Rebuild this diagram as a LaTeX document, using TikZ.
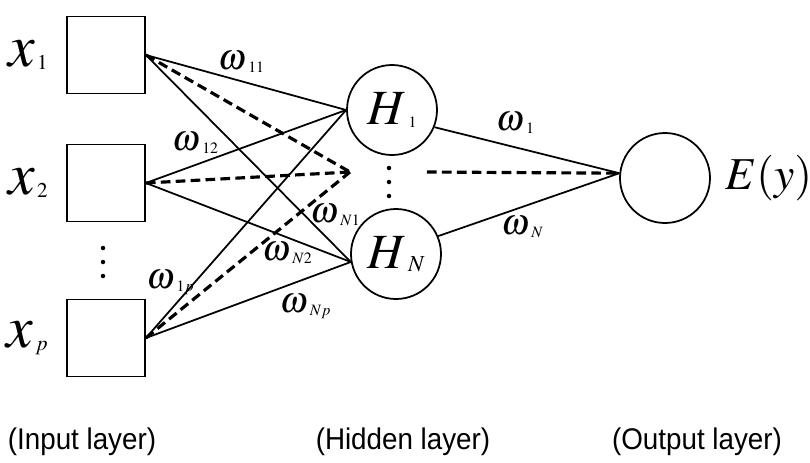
\documentclass[tikz,border=0pt]{standalone}
\usepackage{mathptmx}
\usepackage{fontspec}
\newfontfamily\layerfont[FakeStretch=0.93]{Liberation Sans}
\usetikzlibrary{positioning}
\newcommand{\sym}[4]{{\fontsize{#3}{#3}\selectfont$#1$}\kern0.4mm\raisebox{-0.6mm}{\fontsize{#4}{#4}\selectfont$#2$}}
\tikzset{
  inbox/.style={draw, line width=1pt, minimum width=15.6mm, minimum height=15.4mm, inner sep=0pt},
  neuron/.style={draw, circle, line width=1pt, minimum size=18mm, inner sep=0pt},
  link/.style={line width=1pt},
  dlink/.style={line width=1.8pt, dash pattern=on 5.5pt off 3pt},
  wlabel/.style={inner sep=0pt},
  layer/.style={inner sep=0pt, font=\layerfont\fontsize{17}{17}\selectfont}
}

\begin{document}
\begin{tikzpicture}[x=0.2mm, y=-0.2mm]
  \useasboundingbox (0,0) rectangle (810,462);

  % input layer
  \node [inbox] (in1) at (106,55) {};
  \node [inbox] (in2) at (106,183) {};
  \node [inbox] (inp) at (106,338) {};
  \node [wlabel, left=3.6mm of in1] (x1) {\sym{x}{1}{34}{12}};
  \node [wlabel, left=3.6mm of in2] (x2) {\sym{x}{2}{34}{12}};
  \node [wlabel, left=3.6mm of inp] (xp) {\sym{x}{p}{34}{12}};
  \foreach \y in {248,262,276}
    \fill (103,\y) circle [radius=0.45mm];

  % hidden and output layer
  \node [neuron] (h1) at (392,110) {\sym{H}{1}{28}{9}};
  \node [neuron] (hN) at (396,254) {\sym{H}{N}{28}{13}};
  \foreach \y in {168,182,196}
    \fill (389,\y) circle [radius=0.45mm];
  \node [neuron] (out) at (665,178) {};
  \node [wlabel, right=2.8mm of out] (ey) {\fontsize{26}{26}\selectfont$E(y)$};

  \coordinate (hmid) at (350,172);
  \coordinate (hdash) at (427,172);

  \foreach \i in {1,2,p} {
    \draw [link] (in\i.east) -- (h1.west);
    \draw [dlink] (in\i.east) -- (hmid);
    \draw [link] (in\i.east) -- (hN.190);
  }
  \draw [link] (h1.-22) -- (out.174);
  \draw [link] (hN.23) -- (out.174);
  \draw [dlink] (hdash) -- (out.174);

  % weights
  \node [wlabel] (w11) at (241,62) {\sym{\omega}{11}{21}{9}};
  \node [wlabel] (w12) at (195,143) {\sym{\omega}{12}{21}{9}};
  \node [wlabel] (wN1) at (335,215) {\sym{\omega}{N1}{21}{9}};
  \node [wlabel] (wN2) at (287,253) {\sym{\omega}{N2}{21}{9}};
  \node [wlabel] (w1p) at (170,283) {\sym{\omega}{1p}{21}{9}};
  \node [wlabel] (wNp) at (305,307) {\sym{\omega}{Np}{21}{9}};
  \node [wlabel] (w1) at (515,123) {\sym{\omega}{1}{21}{9}};
  \node [wlabel] (wN) at (522,227) {\sym{\omega}{N}{21}{9}};

  % layer names
  \node [layer] (lin) at (82,442) {(Input layer)};
  \node [layer] (lhid) at (403,442) {(Hidden layer)};
  \node [layer] (lout) at (697,442) {(Output layer)};
\end{tikzpicture}
\end{document}
